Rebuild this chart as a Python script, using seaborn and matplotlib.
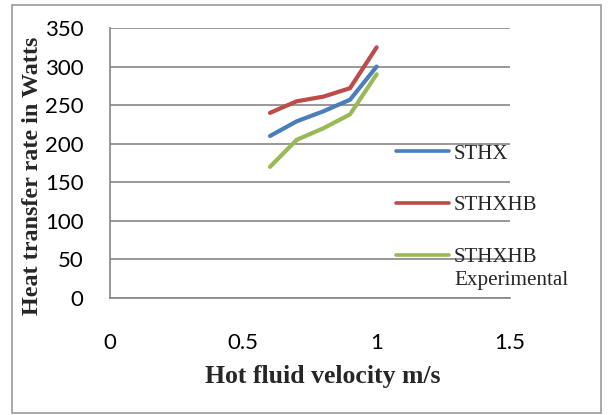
import matplotlib
matplotlib.use("Agg")
import matplotlib.pyplot as plt
from matplotlib.patches import Rectangle
from matplotlib.lines import Line2D
import seaborn as sns
import pandas as pd

velocity = [0.6, 0.7, 0.8, 0.9, 1.0]
sthx = [210, 229, 242, 257, 300]
sthxhb = [240, 255, 261, 272, 325]
sthxhb_exp = [170, 205, 220, 238, 290]
series_names = ["STHX", "STHXHB", "STHXHB Experimental"]
colors = ["#4A7EBB", "#BE4B48", "#98B954"]
x_ticks = [0, 0.5, 1, 1.5]
x_tick_labels = ["0", "0.5", "1", "1.5"]
y_ticks = [0, 50, 100, 150, 200, 250, 300, 350]

df = pd.concat([
    pd.DataFrame({"v": velocity, "q": vals, "series": name})
    for name, vals in zip(series_names, [sthx, sthxhb, sthxhb_exp])
])

sns.set_style("white")
fig = plt.figure(figsize=(6.08, 4.15), dpi=100)
ax = fig.add_axes([110/608, 1-298/415, 400/608, 270/415])

sns.lineplot(data=df, x="v", y="q", hue="series", hue_order=series_names,
             palette=colors, linewidth=3.0, ax=ax, legend=False, sort=False)
for ln in ax.lines:
    ln.set_solid_capstyle("round")
    ln.set_solid_joinstyle("round")

ax.set_xlim(0, 1.5)
ax.set_ylim(0, 350)
ax.set_xticks(x_ticks)
ax.set_xticklabels(x_tick_labels)
ax.set_yticks(y_ticks)
ax.set_yticklabels([str(t) for t in y_ticks])
gridc = "#868686"
ax.yaxis.grid(True, color=gridc, linewidth=1.2)
ax.xaxis.grid(False)
ax.set_axisbelow(True)
for s in ["top", "right"]:
    ax.spines[s].set_visible(False)
for s in ["left", "bottom"]:
    ax.spines[s].set_color(gridc)
    ax.spines[s].set_linewidth(1.2)
ax.tick_params(axis="both", which="major", direction="out",
               width=1.2, color=gridc, labelsize=16, labelcolor="black")
ax.tick_params(axis="x", length=5, pad=20)
ax.tick_params(axis="y", length=7.2, pad=12)
for lab in ax.get_xticklabels() + ax.get_yticklabels():
    lab.set_family(["Lato", "DejaVu Sans"])

ax.set_xlabel("Hot fluid velocity m/s", family="Liberation Serif",
              fontweight="bold", fontsize=18.5)
ax.xaxis.set_label_coords((323-110)/400, (298-365)/270)
ax.set_ylabel("Heat transfer rate in Watts", family="Liberation Serif",
              fontweight="bold", fontsize=17.4)
ax.yaxis.set_label_coords((43-110)/400, (298-176)/270)

handles = [Line2D([0], [0], color=c, linewidth=2.6) for c in colors]
leg = ax.legend(handles, ["STHX", "STHXHB", "STHXHB"], frameon=False,
                loc="upper left", bbox_to_anchor=(396/608, 1-144/415),
                bbox_transform=fig.transFigure,
                prop={"family": "Liberation Serif", "size": 15},
                handlelength=2.55, handletextpad=0.2, labelspacing=1.55,
                borderpad=0, borderaxespad=0)
fig.text(454/608, 1-280/415, "Experimental", family="Liberation Serif",
         fontsize=15.2, va="center", ha="left")

fig.patches.append(Rectangle((12/608, 1-413/415), 589/608, 408/415,
                             transform=fig.transFigure, fill=False,
                             edgecolor="#9a9a9a", linewidth=1.2))

fig.savefig("out.png", dpi=100)
